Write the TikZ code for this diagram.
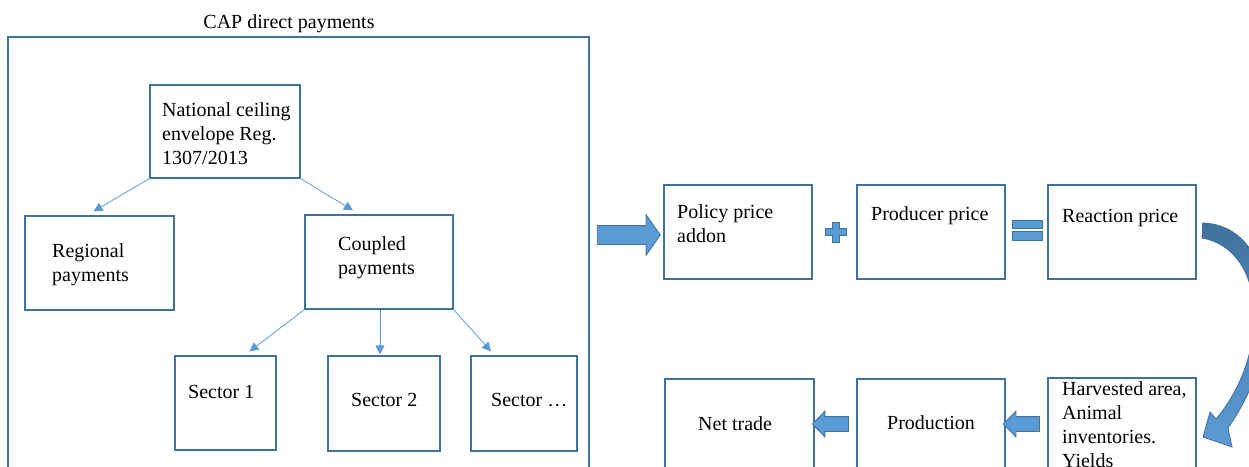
\documentclass[tikz,border=0pt]{standalone}
\usepackage{fontspec}
\setmainfont{Liberation Serif}
\usetikzlibrary{arrows.meta,shapes.arrows}

\definecolor{boxblue}{HTML}{41719C}
\definecolor{fillblue}{HTML}{5B9BD5}

\tikzset{
  box/.style={draw=boxblue, line width=1.2pt, inner sep=0pt,
    minimum width=148pt, minimum height=94pt},
  txt/.style={font=\fontsize{20}{24}\selectfont, align=left,
    anchor=base west, inner sep=0pt},
  link/.style={draw=fillblue, line width=0.8pt,
    -{Triangle[length=9pt,width=9pt]}},
  fat/.style={single arrow, draw=boxblue, fill=fillblue,
    line width=0.8pt},
}

\begin{document}
\begin{tikzpicture}[x=1pt, y=-1pt]

    \useasboundingbox (0,0) rectangle (1249,466);
    \clip (0,0) rectangle (1249,466);

    % CAP frame
    \node[box, minimum width=581pt, minimum height=446pt] (cap) at (298.5,260) {};
    \node[txt, anchor=base] (cap-t) at (289,28) {CAP direct payments};

    % Payment boxes
    \node[box, minimum width=150pt, minimum height=93pt] (national) at (225,131.5) {};
    \node[box, minimum width=149pt] (regional) at (99.5,263) {};
    \node[box] (coupled) at (379,262) {};
    \node[box, minimum width=101pt] (sector1) at (225.5,403) {};
    \node[box, minimum width=112pt, minimum height=95pt] (sector2) at (384,403.5) {};
    \node[box, minimum width=106pt, minimum height=95pt] (sectorx) at (524,403.5) {};

    % (multi-line texts sit on their last baseline)
    \node[txt] (national-t) at (162,164) {National ceiling\\envelope Reg.\\1307/2013};
    \node[txt] (regional-t) at (52,281) {Regional\\payments};
    \node[txt] (coupled-t) at (338,274) {Coupled\\payments};
    \node[txt] (sector1-t) at (188,398) {Sector 1};
    \node[txt] (sector2-t) at (351,406) {Sector 2};
    \node[txt] (sectorx-t) at (491,406) {Sector …};

    % Links inside the frame
    \draw[link] (national.south west) -- ([xshift=-6pt, yshift=4pt]regional.north);
    \draw[link] (national.south east) -- ([xshift=-26pt, yshift=4pt]coupled.north);
    \draw[link] (coupled.south west) -- ([xshift=24pt, yshift=4pt]sector1.north);
    \draw[link] ([xshift=1pt]coupled.south) -- ([xshift=1pt, yshift=1pt]coupled.south |- sector2.north);
    \draw[link] (coupled.south east) -- ([xshift=-33pt, yshift=4pt]sectorx.north);

    % Price chain
    \node[box] (policy) at (738,232) {};
    \node[box] (producer) at (931,232) {};
    \node[box] (reaction) at (1122,232) {};
    \node[txt] (policy-t) at (677,242) {Policy price\\addon};
    \node[txt] (producer-t) at (871,220) {Producer price};
    \node[txt] (reaction-t) at (1062,222) {Reaction price};

    % Market boxes
    \node[box, minimum width=149pt] (nettrade) at (739.5,426) {};
    \node[box] (production) at (931,426) {};
    \node[box] (harvested) at (1122,425) {};
    \node[txt] (nettrade-t) at (698,430) {Net trade};
    \node[txt] (production-t) at (887,429) {Production};
    \node[txt] (harvested-t) at (1062,467) {Harvested area,\\Animal\\inventories.\\Yields};

    % Block arrows
    \node[fat, inner sep=9pt, minimum height=63pt,
      single arrow head extend=11pt, single arrow tip angle=110] (toprice) at (625.5,235) {};
    \node[fat, inner sep=7pt, minimum height=36pt, shape border rotate=180,
      single arrow head extend=5.5pt, single arrow tip angle=92] (totrade) at (834,424) {};
    \node[fat, inner sep=7pt, minimum height=36pt, shape border rotate=180,
      single arrow head extend=5.5pt, single arrow tip angle=92] (toprod) at (1025,424) {};

    % Plus and equals signs
    \filldraw[draw=boxblue, fill=fillblue, line width=0.8pt]
      (825,228.5) -- (832,228.5) -- (832,222) -- (839,222) -- (839,228.5) -- (846,228.5)
      -- (846,235.5) -- (839,235.5) -- (839,242) -- (832,242) -- (832,235.5) -- (825,235.5) -- cycle;
    \filldraw[draw=boxblue, fill=fillblue, line width=0.8pt]
      (1012,220) rectangle (1042,228.5)
      (1012,231.5) rectangle (1042,240);

    % Curved arrow from reaction price down to harvested area
    \shadedraw[draw=boxblue, line width=0.8pt, top color=boxblue, middle color=boxblue!60!fillblue,
      bottom color=fillblue]
      ([yshift=9pt]reaction.east) ++(6,0) .. controls (1275,225) and (1290,340) .. (1228,428)
      -- (1232,447) -- (1203,437) -- (1210,412) -- (1216,419)
      .. controls (1270,355) and (1268,250) .. (1202,238) -- cycle;

\end{tikzpicture}
\end{document}
